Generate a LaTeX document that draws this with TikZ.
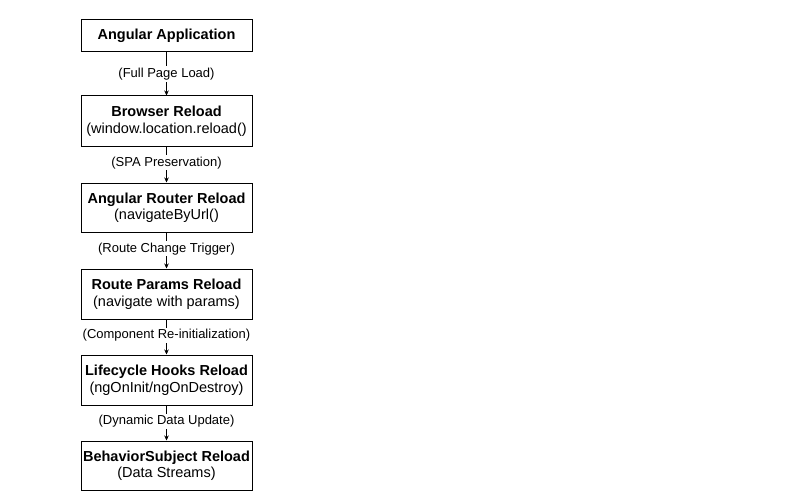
\documentclass[tikz,border=0pt]{standalone}
\usepackage{fontspec}
\setmainfont{Liberation Sans}
\usetikzlibrary{arrows.meta}
\begin{document}
\begin{tikzpicture}[x=1pt,y=-1pt,
  box/.style={draw,line width=1pt,minimum width=171pt,align=center,inner sep=0pt,font=\fontsize{14.5}{16.5}\selectfont},
  lbl/.style={fill=white,inner sep=1.5pt,font=\fontsize{13}{15}\selectfont},
  conn/.style={-{Stealth[length=5pt,width=4.5pt]},line width=0.7pt}]
\useasboundingbox (0,0) rectangle (800,500);
\node[box,minimum height=32pt] (a) at (166.5,36) {\textbf{Angular Application}};
\node[box,minimum height=50pt] (b) at (166.5,121) {\textbf{Browser Reload}\\(window.location.reload()};
\node[box,minimum height=49pt] (c) at (166.5,207.5) {\textbf{Angular Router Reload}\\(navigateByUrl()};
\node[box,minimum height=50pt] (d) at (166.5,294) {\textbf{Route Params Reload}\\(navigate with params)};
\node[box,minimum height=50pt] (e) at (166.5,380) {\textbf{Lifecycle Hooks Reload}\\(ngOnInit/ngOnDestroy)};
\node[box,minimum height=49pt] (f) at (166.5,465.5) {\textbf{BehaviorSubject Reload}\\(Data Streams)};
\draw[conn] (a) -- node[lbl,pos=0.5] {(Full Page Load)} (b);
\draw[conn] (b) -- node[lbl,pos=0.45] {(SPA Preservation)} (c);
\draw[conn] (c) -- node[lbl,pos=0.45] {(Route Change Trigger)} (d);
\draw[conn] (d) -- node[lbl,pos=0.45] {(Component Re-initialization)} (e);
\draw[conn] (e) -- node[lbl,pos=0.45] {(Dynamic Data Update)} (f);
\end{tikzpicture}
\end{document}
